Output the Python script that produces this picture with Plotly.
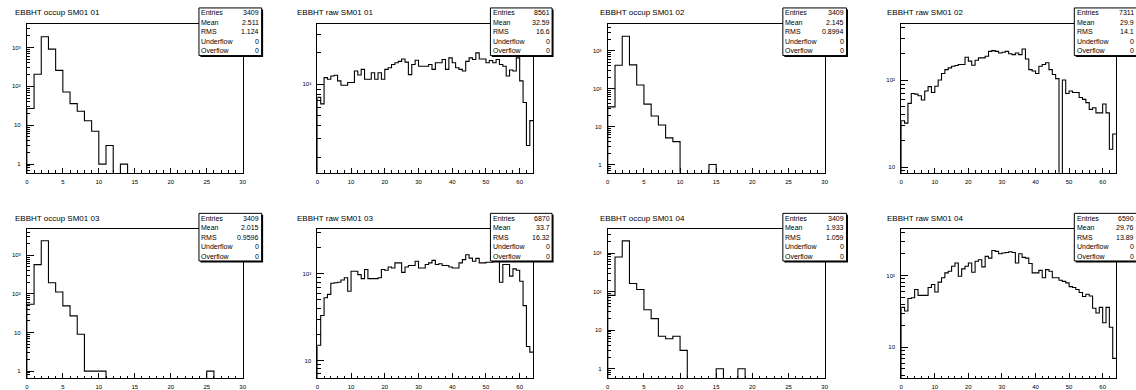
import numpy as np
import plotly.graph_objects as go

W, H = 1136, 390

# ---- histogram contents -------------------------------------------------
occup_01 = [27, 205, 1900, 910, 258, 72, 36, 23, 13, 7, 1, 3, 0, 1] + [0] * 16
occup_02 = [33, 412, 2400, 421, 124, 39, 19, 11, 5, 4, 0, 0, 0, 0, 1] + [0] * 15
occup_03 = [54, 575, 2377, 194, 112, 49, 27, 9, 1, 1, 1] + [0] * 14 + [1] + [0] * 4
occup_04 = [80, 787, 2070, 163, 114, 34, 20, 7, 6, 7, 3, 0, 0, 0, 0, 1, 0, 0, 1] + [0] * 11

raw_01 = [75, 65, 116, 112, 120, 122, 108, 98, 98, 104, 104, 134, 123, 139, 112, 112,
          129, 112, 129, 112, 139, 144, 155, 161, 166, 175, 163, 124, 155, 170, 149, 149,
          149, 155, 139, 161, 161, 173, 139, 179, 161, 144, 139, 134, 166, 179, 173, 200,
          175, 175, 161, 169, 161, 173, 155, 149, 120, 137, 134, 179, 108, 67, 26, 45]
raw_02 = [34, 32, 54, 70, 69, 66, 59, 75, 84, 72, 85, 100, 119, 132, 138, 144,
          147, 151, 151, 183, 165, 148, 169, 180, 180, 188, 214, 218, 214, 205, 209, 214,
          201, 196, 205, 196, 228, 175, 132, 127, 119, 144, 151, 158, 132, 116, 104, 0,
          100, 70, 75, 72, 72, 63, 60, 55, 46, 48, 42, 42, 53, 42, 16, 24]
raw_03 = [15, 33, 53, 58, 78, 79, 80, 85, 90, 63, 107, 107, 98, 88, 112, 88,
          88, 88, 90, 112, 110, 120, 117, 134, 134, 104, 120, 125, 125, 140, 117, 117,
          128, 134, 143, 128, 131, 125, 125, 120, 117, 117, 134, 146, 166, 152, 140, 151,
          134, 134, 136, 136, 140, 146, 80, 128, 128, 94, 114, 110, 82, 43, 14.5, 12.5]
raw_04 = [36, 32, 48, 49, 64, 53, 53, 53, 68, 75, 59, 81, 93, 109, 115, 135,
          150, 98, 124, 135, 150, 111, 158, 166, 132, 185, 175, 224, 217, 201, 206, 210,
          215, 210, 150, 201, 179, 175, 147, 109, 109, 118, 93, 121, 115, 93, 93, 86,
          83, 79, 70, 68, 64, 58, 51, 55, 52, 35, 30, 36, 22, 36, 19, 7]

titles = ["EBBHT occup SM01 01", "EBBHT raw SM01 01", "EBBHT occup SM01 02", "EBBHT raw SM01 02",
          "EBBHT occup SM01 03", "EBBHT raw SM01 03", "EBBHT occup SM01 04", "EBBHT raw SM01 04"]
contents = [occup_01, raw_01, occup_02, raw_02, occup_03, raw_03, occup_04, raw_04]
stats = [("3409", "2.511", "1.124"), ("8561", "32.59", "16.6"),
         ("3409", "2.145", "0.8994"), ("7311", "29.9", "14.1"),
         ("3409", "2.015", "0.9596"), ("6870", "33.7", "16.32"),
         ("3409", "1.933", "1.059"), ("6590", "29.76", "13.89")]
stat_names = ["Entries", "Mean", "RMS", "Underflow", "Overflow"]
decade_text = {0: "1", 1: "10", 2: "10\u00b2", 3: "10\u00b3", 4: "10\u2074"}

# ---- pad geometry (pixels) ----------------------------------------------
frame_x = [(25, 242), (317, 534), (609, 827), (904, 1120)]
frame_y = [(24, 174), (231, 381)]
title_x = [11, 295, 599, 888]
box_x = [(198, 261), (491, 553), (785, 849), (1078, 1141)]
box_y = [(8, 56), (215, 263)]
log_ranges = [(-0.22, 3.61), (1.155, 2.579), (-0.217, 3.707), (0.935, 2.647),
              (-0.18, 3.676), (0.797, 2.515), (-0.24, 3.617), (0.571, 2.646)]

FONT = "Liberation Sans, Arial, sans-serif"


def px(x):
    return x / W


def py(y):
    return 1 - y / H


fig = go.Figure()
shapes, annotations = [], []

for i, (title, vals, st) in enumerate(zip(titles, contents, stats)):
    row, col = divmod(i, 4)
    n = len(vals)
    is_raw = n == 64
    v = np.asarray(vals, dtype=float)
    shown = np.where(v > 0, v, 1e-3)          # empty bins drop below the frame
    edges = np.arange(n + 1)
    xs = np.concatenate([[0], edges])
    ys = np.concatenate([[1e-3], shown, [shown[-1]]])
    k = i + 1
    xa, ya = f"x{k}", f"y{k}"
    fig.add_trace(go.Scatter(x=xs, y=ys, mode="lines",
                             line=dict(color="black", width=1.1, shape="hv"),
                             xaxis=xa, yaxis=ya, showlegend=False, hoverinfo="skip"))

    x0, x1 = frame_x[col]
    y0, y1 = frame_y[row]
    axis_common = dict(showline=True, linecolor="black", linewidth=1, mirror=True,
                       showgrid=False, zeroline=False, ticks="inside", tickcolor="black",
                       tickwidth=1, tickfont=dict(family=FONT, size=6, color="black"))
    fig.layout[f"xaxis{k}"] = dict(
        domain=[px(x0), px(x1)], anchor=ya, range=[0, n],
        tickmode="array", tickvals=list(range(0, n + 1, 10 if is_raw else 5)),
        ticklen=5, ticklabelstandoff=3,
        minor=dict(ticks="inside", ticklen=2.5, tickcolor="black",
                   tickvals=list(range(0, n + 1, 2 if is_raw else 1))),
        **axis_common)

    lo, hi = log_ranges[i]
    decades = [d for d in range(0, 5) if lo <= d <= hi]
    minor_vals = [m * 10 ** d for d in range(-1, 4) for m in range(2, 10)
                  if lo <= np.log10(m * 10 ** d) <= hi]
    fig.layout[f"yaxis{k}"] = dict(
        domain=[py(y1), py(y0)], anchor=xa, type="log", range=[lo, hi],
        tickmode="array", tickvals=[10 ** d for d in decades],
        ticktext=[decade_text[d] for d in decades],
        ticklen=7, ticklabelstandoff=4,
        minor=dict(ticks="inside", ticklen=3.5, tickcolor="black", tickvals=minor_vals),
        **axis_common)

    annotations.append(dict(x=px(title_x[col]), y=py(frame_y[row][0] - 11),
                            xref="paper", yref="paper", text=title, showarrow=False,
                            xanchor="left", yanchor="middle",
                            font=dict(family=FONT, size=8, color="black")))

    # statistics box with drop shadow
    bx0, bx1 = box_x[col]
    by0, by1 = box_y[row]
    shapes.append(dict(type="rect", xref="paper", yref="paper",
                       x0=px(bx0 + 1.5), x1=px(bx1 + 1.5), y0=py(by1 + 1.5), y1=py(by0 + 1.5),
                       fillcolor="black", line=dict(width=0)))
    shapes.append(dict(type="rect", xref="paper", yref="paper",
                       x0=px(bx0), x1=px(bx1), y0=py(by1), y1=py(by0),
                       fillcolor="white", line=dict(color="black", width=1)))
    values = [st[0], st[1], st[2], "0", "0"]
    step = (by1 - by0) / 5
    for r, (nm, vv) in enumerate(zip(stat_names, values)):
        yc = by0 + step * (r + 0.5)
        annotations.append(dict(x=px(bx0 + 0.5), y=py(yc), xref="paper", yref="paper", text=nm,
                                showarrow=False, xanchor="left", yanchor="middle",
                                font=dict(family=FONT, size=7, color="black")))
        annotations.append(dict(x=px(bx1 - 0.5), y=py(yc), xref="paper", yref="paper", text=vv,
                                showarrow=False, xanchor="right", yanchor="middle",
                                font=dict(family=FONT, size=7, color="black")))

fig.update_layout(width=W, height=H, margin=dict(l=0, r=0, t=0, b=0),
                  paper_bgcolor="white", plot_bgcolor="white",
                  shapes=shapes, annotations=annotations, showlegend=False)
fig.write_html("out.html")
